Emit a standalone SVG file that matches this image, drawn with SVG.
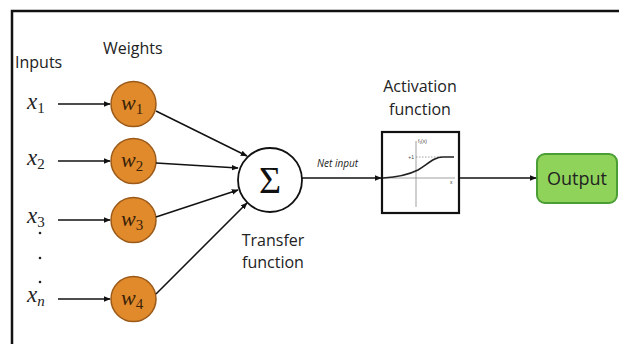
<svg xmlns="http://www.w3.org/2000/svg" width="619" height="344" viewBox="0 0 619 344">
<defs>
<style>
.lbl{font-family:"Open Sans","Noto Sans",sans-serif;font-size:16px;fill:#222}
.mx{font-family:"Liberation Serif","DejaVu Serif",serif;font-style:italic;font-size:23px;fill:#222}
.sub{font-size:15px;font-style:normal}
.subi{font-size:15px;font-style:italic}
.w{fill:#e08a2c;stroke:#9c5a18;stroke-width:1.5}
.wt{font-family:"Liberation Serif","DejaVu Serif",serif;font-style:italic;font-size:22px;fill:#3a2208}
.ln{stroke:#111;stroke-width:1.5;fill:none}
</style>
<marker id="ah" viewBox="0 0 10 10" refX="9" refY="5" markerWidth="7" markerHeight="7" orient="auto" markerUnits="userSpaceOnUse">
<path d="M0,1 L10,5 L0,9 z" fill="#111"/>
</marker>
</defs>
<rect width="619" height="344" fill="#fff"/>
<path d="M12,344 V11 H619" fill="none" stroke="#111" stroke-width="2.5"/>

<text class="lbl" x="15" y="68">Inputs</text>
<text class="lbl" x="103" y="54">Weights</text>

<g id="x1"><text class="mx" x="27" y="109">x<tspan class="sub" dy="4">1</tspan></text></g>
<g id="x2"><text class="mx" x="27" y="165">x<tspan class="sub" dy="4">2</tspan></text></g>
<g id="x3"><text class="mx" x="27" y="223">x<tspan class="sub" dy="4">3</tspan></text></g>
<g id="dots" fill="#222"><circle cx="40" cy="233" r="1.3"/><circle cx="40" cy="258" r="1.3"/><circle cx="40" cy="282" r="1.3"/></g>
<g id="xn"><text class="mx" x="27" y="302">x<tspan class="subi" dy="4">n</tspan></text></g>

<g id="w1"><circle class="w" cx="133.5" cy="104" r="22.5"/><text class="wt" x="121" y="110">w<tspan class="sub" dy="4">1</tspan></text></g>
<g id="w2"><circle class="w" cx="133.5" cy="161" r="22.5"/><text class="wt" x="121" y="167">w<tspan class="sub" dy="4">2</tspan></text></g>
<g id="w3"><circle class="w" cx="133.5" cy="220" r="22.5"/><text class="wt" x="121" y="226">w<tspan class="sub" dy="4">3</tspan></text></g>
<g id="w4"><circle class="w" cx="133.5" cy="299" r="22.5"/><text class="wt" x="121" y="305">w<tspan class="sub" dy="4">4</tspan></text></g>

<g id="sum"><circle cx="270" cy="180" r="32" fill="#fff" stroke="#111" stroke-width="1.8"/><text x="270" y="193" text-anchor="middle" font-family="'Liberation Serif','DejaVu Serif',serif" font-size="38" fill="#111">Σ</text></g>
<text class="lbl" x="273" y="246" text-anchor="middle">Transfer</text>
<text class="lbl" x="273" y="268" text-anchor="middle">function</text>

<g id="activation">
<rect x="382" y="132" width="77" height="81" fill="#fff" stroke="#111" stroke-width="2.2"/>
<line x1="416" y1="141" x2="416" y2="207" stroke="#888" stroke-width="0.8"/>
<line x1="383" y1="178" x2="455" y2="178" stroke="#888" stroke-width="0.8"/>
<line x1="416" y1="157" x2="443" y2="157" stroke="#888" stroke-width="0.8" stroke-dasharray="1.5,1.5"/>
<path d="M383,178 C400,177 410,174 418,170 C428,164 434,157 443,157 L454,157" fill="none" stroke="#222" stroke-width="1.6"/>
<text x="414" y="159" text-anchor="end" font-family="'Liberation Sans',sans-serif" font-size="5" fill="#444">+1</text>
<text x="418" y="143" font-family="'Liberation Sans',sans-serif" font-size="5" fill="#444">f₁(x)</text>
<text x="450" y="184" font-family="'Liberation Sans',sans-serif" font-size="5" fill="#444">x</text>
</g>
<text class="lbl" x="420" y="92" text-anchor="middle">Activation</text>
<text class="lbl" x="420" y="115" text-anchor="middle">function</text>

<g id="output"><rect x="537" y="154" width="80" height="49" rx="8" fill="#8fd35a" stroke="#4a9e35" stroke-width="2"/><text class="lbl" x="577" y="185" text-anchor="middle" style="font-size:18px">Output</text></g>

<text x="317" y="167" font-family="'Open Sans','Noto Sans',sans-serif" font-style="italic" font-size="10" fill="#222">Net input</text>

<g id="connectors">
<line class="ln" x1="58" y1="104" x2="110" y2="104" marker-end="url(#ah)"/>
<line class="ln" x1="58" y1="161" x2="110" y2="161" marker-end="url(#ah)"/>
<line class="ln" x1="58" y1="220" x2="110" y2="220" marker-end="url(#ah)"/>
<line class="ln" x1="58" y1="299" x2="110" y2="299" marker-end="url(#ah)"/>
<line class="ln" x1="156" y1="111" x2="247" y2="156" marker-end="url(#ah)"/>
<line class="ln" x1="156" y1="163" x2="238" y2="168" marker-end="url(#ah)"/>
<line class="ln" x1="156" y1="217" x2="238" y2="190" marker-end="url(#ah)"/>
<line class="ln" x1="156" y1="294" x2="247" y2="203" marker-end="url(#ah)"/>
<line class="ln" x1="302" y1="178" x2="381" y2="178" marker-end="url(#ah)"/>
<line class="ln" x1="459" y1="178" x2="536" y2="178" marker-end="url(#ah)"/>
</g>
</svg>
